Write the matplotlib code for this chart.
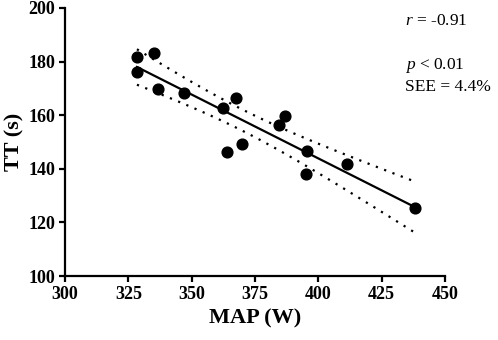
import numpy as np
import matplotlib
matplotlib.use("Agg")
import matplotlib.pyplot as plt

plt.rcParams['font.family'] = ['Liberation Serif', 'DejaVu Serif']
plt.rcParams['mathtext.fontset'] = 'custom'
plt.rcParams['mathtext.it'] = 'Liberation Serif:italic'
plt.rcParams['mathtext.rm'] = 'Liberation Serif'

# MAP (W) and TT (s)
map_w = [328.4, 328.6, 335.0, 336.8, 347.0, 362.4, 367.5, 363.8, 369.9,
         384.5, 386.7, 395.5, 395.0, 411.2, 438.2]
tt_s = [181.7, 176.3, 183.3, 169.9, 168.4, 162.8, 166.5, 146.3, 149.3,
        156.3, 159.8, 146.6, 137.9, 141.9, 125.5]

x_ticks = [300, 325, 350, 375, 400, 425, 450]
y_ticks = [100, 120, 140, 160, 180, 200]

x = np.array(map_w)
y = np.array(tt_s)

# least squares fit + 95% confidence band of the mean
slope, icpt = np.polyfit(x, y, 1)
n = len(x)
resid = y - (slope * x + icpt)
s_err = np.sqrt(np.sum(resid ** 2) / (n - 2))
t_val = 2.160  # t(0.975, 13)
xf = np.linspace(x.min(), x.max(), 100)
yf = slope * xf + icpt
ci = t_val * s_err * np.sqrt(1 / n + (xf - x.mean()) ** 2 / np.sum((x - x.mean()) ** 2))

fig = plt.figure(figsize=(4.98, 3.4), dpi=100)
ax = fig.add_axes([0.1305, 0.188, 0.7631, 0.7885])

ax.plot(xf, yf, color='black', lw=1.6)
ax.plot(xf, yf + ci, color='black', lw=1.6, ls=(0, (1, 3)))
ax.plot(xf, yf - ci, color='black', lw=1.6, ls=(0, (1, 3)))
ax.scatter(x, y, s=60, color='black', zorder=3)

ax.set_xlim(300, 450)
ax.set_ylim(100, 200)
ax.set_xticks(x_ticks)
ax.set_yticks(y_ticks)
for side in ['top', 'right']:
    ax.spines[side].set_visible(False)
for side in ['left', 'bottom']:
    ax.spines[side].set_linewidth(1.6)
ax.tick_params(width=1.6, length=4.5, direction='out', labelsize=13, pad=2.5)
for lab in ax.get_xticklabels() + ax.get_yticklabels():
    lab.set_fontweight('bold')

ax.set_xlabel('MAP (W)', fontsize=16, fontweight='bold', labelpad=4)
ax.set_ylabel('TT (s)', fontsize=16, fontweight='bold', labelpad=3)

fig.text(405 / 498, 1 - 25 / 340, r'$r$ = -0.91', fontsize=12.5,
         ha='left', va='baseline')
fig.text(405 / 498, 1 - 69 / 340, r'$p$ < 0.01', fontsize=12.5,
         ha='left', va='baseline')
fig.text(405 / 498, 1 - 91 / 340, 'SEE = 4.4%', fontsize=12.5,
         ha='left', va='baseline')

fig.savefig('out.png', dpi=100)
